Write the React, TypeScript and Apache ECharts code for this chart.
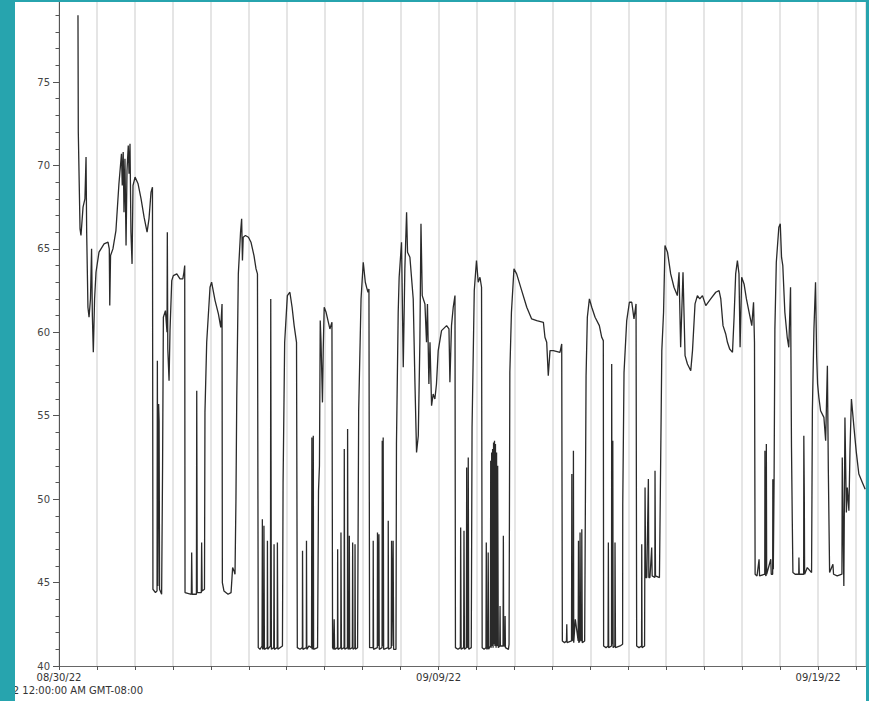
import React, { useEffect, useRef } from "react";
import * as echarts from "echarts";

// Time is hours since 08/30/22 12:00:00 AM (GMT-08:00); value is the reading.
const readingsAug30toSep03: [number, number][] = [
  [12.0, 79.0], [12.2, 72.0], [13.3, 66.2], [13.9, 65.8], [15.2, 67.5], [16.4, 68.0], [17.1, 70.5], [17.5, 66.0],
  [18.3, 61.5], [19.0, 60.9], [19.9, 62.0], [20.6, 65.0], [21.1, 61.0], [21.7, 58.8], [22.5, 62.0], [23.4, 63.6],
  [25.3, 64.8], [28.5, 65.3], [31.0, 65.4], [31.8, 65.0], [32.1, 61.6], [32.6, 64.6], [34.1, 65.0], [36.0, 66.1],
  [37.9, 68.9], [39.5, 70.7], [40.0, 68.8], [40.6, 70.8], [41.1, 67.2], [41.7, 70.4], [42.4, 65.2], [43.0, 69.7],
  [43.8, 71.2], [44.3, 69.5], [44.9, 71.3], [45.5, 66.0], [46.2, 64.1], [46.8, 68.8], [48.1, 69.3], [50.0, 68.9],
  [51.9, 68.0], [53.8, 66.9], [55.7, 66.0], [56.9, 66.8], [58.2, 68.4], [59.1, 68.7], [59.4, 44.6], [61.0, 44.4],
  [62.0, 44.5], [62.2, 58.3], [62.5, 44.8], [63.0, 55.7], [63.3, 54.7], [63.6, 44.6], [64.9, 44.3], [65.5, 52.0],
  [66.0, 60.9], [67.3, 61.3], [68.3, 60.0], [68.5, 66.0], [68.8, 59.0], [69.6, 57.1], [70.2, 60.1], [71.3, 63.1],
  [72.3, 63.4], [74.5, 63.5], [76.5, 63.2], [78.3, 63.2], [79.0, 63.6], [79.5, 64.0], [79.7, 44.4], [83.7, 44.3],
  [83.9, 46.8], [84.2, 44.3], [86.9, 44.3], [87.1, 56.5], [87.4, 44.4], [90.0, 44.4], [90.2, 47.4], [90.5, 44.5],
  [92.0, 44.6], [92.3, 55.2], [93.4, 59.4], [95.5, 62.7], [96.5, 63.0], [98.7, 61.9], [100.8, 61.1], [102.3, 60.3],
  [103.1, 61.7], [103.3, 45.0],
];

const readingsSep03toSep08: [number, number][] = [
  [104.3, 44.5], [106.9, 44.3], [108.8, 44.4], [109.8, 45.9], [110.7, 45.7], [111.3, 45.5], [111.9, 50.0], [112.4, 56.0],
  [113.4, 63.5], [114.8, 66.0], [115.5, 66.8], [116.0, 64.3], [116.5, 65.7], [117.9, 65.8], [119.8, 65.7], [121.4, 65.4],
  [123.3, 64.6], [124.6, 63.8], [125.5, 63.5], [126.0, 41.1], [127.1, 41.0], [128.4, 41.2], [128.6, 48.8], [128.8, 41.0],
  [129.5, 41.1], [129.6, 48.4], [129.9, 41.0], [131.7, 41.1], [131.8, 47.5], [132.0, 41.0], [133.7, 41.2], [133.9, 62.0],
  [134.1, 52.2], [134.3, 41.0], [135.8, 41.1], [136.0, 47.3], [136.2, 41.0], [138.0, 41.1], [138.1, 47.4], [138.4, 41.0],
  [141.3, 41.2], [141.7, 51.0], [142.7, 59.4], [144.4, 62.2], [146.0, 62.4], [147.4, 61.5], [148.7, 60.4], [150.2, 59.4],
  [150.7, 41.1], [152.4, 41.0], [153.9, 41.1], [154.0, 46.9], [154.2, 41.0], [156.4, 41.1], [156.5, 47.5], [156.7, 41.0],
  [158.1, 41.2], [159.7, 41.1], [159.9, 53.7], [160.1, 41.0], [160.6, 41.1], [160.8, 53.8], [161.0, 41.0], [163.5, 41.1],
  [164.1, 50.5], [164.7, 52.0], [165.2, 60.7], [165.7, 59.4], [166.6, 55.8], [167.1, 59.0], [167.7, 61.5], [168.9, 61.2],
  [171.3, 60.2], [172.6, 60.6], [173.0, 41.1], [173.6, 41.0], [174.0, 42.8], [174.3, 41.0], [176.1, 41.1], [176.2, 47.0],
  [176.4, 41.0], [178.2, 41.1], [178.3, 48.0], [178.6, 41.0], [180.3, 41.1], [180.4, 53.0], [180.7, 41.0], [182.4, 41.1],
  [182.5, 54.2], [182.8, 41.0], [183.5, 41.1], [183.6, 47.8], [183.8, 41.0], [185.5, 41.1], [185.7, 47.4], [185.9, 41.0],
  [187.1, 41.1], [187.2, 47.3], [187.4, 41.0], [188.8, 41.1], [189.5, 55.3], [191.0, 62.0], [192.4, 64.2], [193.7, 63.0],
  [194.5, 62.7], [195.4, 62.4], [196.0, 62.6], [196.4, 41.1],
];

const readingsSep08toSep13: [number, number][] = [
  [197.0, 41.1], [198.6, 41.1], [198.7, 47.5], [198.9, 41.0], [201.3, 41.1], [201.4, 48.0], [201.9, 41.2], [202.3, 47.9],
  [202.5, 41.0], [204.3, 41.1], [204.4, 53.5], [204.7, 41.2], [205.0, 53.7], [205.3, 41.0], [208.1, 41.1], [208.2, 48.7],
  [208.4, 41.0], [210.1, 41.1], [210.3, 47.5], [210.5, 41.2], [211.3, 47.5], [211.6, 41.0], [213.1, 41.0], [213.4, 53.3],
  [214.5, 61.2], [215.1, 63.3], [216.6, 65.4], [217.7, 57.9], [218.7, 63.8], [219.8, 67.2], [220.4, 64.8], [221.9, 64.5],
  [224.0, 62.0], [225.1, 56.9], [226.1, 52.8], [227.2, 53.8], [228.2, 59.4], [228.9, 66.5], [229.7, 62.2], [231.4, 61.7],
  [232.4, 59.4], [233.0, 61.7], [233.9, 56.9], [234.6, 59.4], [235.6, 55.6], [236.6, 56.3], [237.7, 56.0], [238.7, 56.9],
  [239.8, 58.9], [241.9, 60.1], [245.1, 60.4], [246.6, 60.2], [247.2, 57.0], [248.2, 60.4], [249.3, 61.5], [250.4, 62.2],
  [250.7, 41.1], [252.3, 41.0], [253.8, 41.1], [254.0, 48.3], [254.3, 41.0], [255.9, 41.1], [256.1, 48.1], [256.4, 41.0],
  [257.6, 41.1], [257.8, 51.9], [258.1, 41.2], [258.6, 41.1], [258.8, 52.5], [259.1, 41.0], [260.7, 41.1], [261.2, 54.3],
  [262.6, 62.5], [264.0, 64.3], [265.1, 63.0], [266.2, 63.3], [267.2, 62.7], [267.6, 41.1], [268.8, 41.0], [270.0, 41.1],
  [270.2, 47.4], [270.5, 41.0], [271.2, 41.1], [271.4, 46.8], [271.7, 41.0], [272.8, 41.2], [273.0, 52.3], [273.3, 41.1],
  [273.6, 52.8], [273.9, 41.2], [274.2, 53.0], [274.5, 41.1], [274.8, 53.4], [275.1, 41.3], [275.4, 53.5], [275.7, 41.2],
  [276.0, 53.3], [276.4, 41.1], [276.7, 52.8], [277.0, 41.2], [277.4, 52.0], [277.8, 41.1], [278.7, 41.2], [278.9, 43.6],
  [279.1, 41.2], [280.8, 41.2], [281.0, 47.8], [281.2, 41.2], [281.9, 41.2], [282.1, 43.0], [282.3, 41.1], [284.2, 41.0],
  [284.6, 41.3], [285.1, 57.6], [286.1, 61.2], [287.7, 63.8], [289.4, 63.5], [292.6, 62.5], [295.8, 61.5], [298.9, 60.8],
  [302.1, 60.7], [306.3, 60.6], [307.3, 59.7], [308.4, 59.4], [309.4, 57.4], [310.5, 58.9], [312.6, 58.9], [316.8, 58.8],
  [317.9, 59.3], [318.3, 41.5],
];

const readingsSep13toSep20: [number, number][] = [
  [319.7, 41.4], [320.9, 41.5], [321.1, 42.5], [321.3, 41.4], [324.1, 41.5], [324.3, 51.5], [324.5, 41.6], [325.2, 41.5],
  [325.3, 52.9], [325.5, 41.4], [326.5, 42.8], [328.3, 41.5], [328.5, 47.5], [328.7, 41.4], [329.4, 41.5], [329.5, 48.0],
  [329.8, 41.6], [330.5, 41.5], [330.6, 48.2], [330.9, 41.4], [332.4, 41.5], [333.3, 57.4], [334.1, 60.9], [335.4, 62.0],
  [336.9, 61.5], [339.0, 60.9], [341.7, 60.4], [343.2, 59.7], [344.2, 59.5], [344.4, 41.2], [345.9, 41.1], [347.2, 41.2],
  [347.4, 47.4], [347.6, 41.1], [349.4, 41.2], [349.5, 58.1], [349.8, 41.3], [350.2, 53.5], [350.4, 41.1], [351.5, 41.2],
  [351.6, 47.4], [351.9, 41.1], [354.8, 41.2], [356.4, 41.3], [356.5, 49.7], [357.3, 57.6], [359.0, 60.7], [360.7, 61.8],
  [362.2, 61.8], [363.6, 60.8], [364.9, 61.7], [365.3, 41.2], [366.8, 41.1], [368.4, 41.2], [368.5, 47.3], [368.7, 41.1],
  [370.3, 41.2], [370.6, 50.7], [371.0, 45.3], [371.7, 45.3], [372.7, 51.2], [373.0, 45.3], [373.7, 45.3], [374.8, 47.1],
  [375.1, 45.4], [376.8, 45.3], [376.9, 51.7], [377.2, 45.4], [379.7, 45.3], [381.2, 58.9], [382.3, 61.2], [383.2, 65.2],
  [384.8, 64.8], [386.8, 63.5], [388.9, 62.7], [391.0, 62.2], [392.1, 63.6], [393.1, 59.1], [394.6, 63.6], [395.9, 58.6],
  [397.4, 58.1], [399.5, 57.7], [400.6, 58.9], [402.2, 61.7], [403.7, 62.2], [405.2, 62.0], [406.9, 62.2], [409.0, 61.6],
  [412.1, 62.0], [415.3, 62.4], [417.4, 62.5], [418.5, 62.0], [419.9, 60.4], [421.6, 59.9], [422.7, 59.4], [424.1, 59.0],
  [425.9, 58.8], [426.9, 60.9], [427.9, 63.5], [429.0, 64.3], [430.0, 63.5], [430.7, 59.1], [431.7, 63.3], [433.2, 62.9],
  [434.7, 62.0], [436.4, 61.2], [438.1, 60.4], [439.2, 61.8], [439.8, 59.4], [440.2, 45.5], [441.4, 45.4], [442.7, 46.4],
  [443.0, 45.4], [446.3, 45.5], [446.4, 52.9], [446.6, 45.5], [447.1, 45.4], [447.3, 53.3], [447.5, 45.5], [450.1, 46.4],
  [450.4, 45.5], [451.3, 45.5], [451.4, 51.2], [451.7, 45.8], [452.2, 51.2], [452.7, 60.2], [453.6, 64.2], [455.2, 66.3],
  [456.1, 66.5], [456.9, 64.5], [457.7, 64.0], [459.0, 61.2], [460.5, 59.7], [461.5, 59.1], [462.6, 62.7], [463.2, 53.1],
  [463.7, 48.7], [464.1, 45.6], [465.5, 45.5], [467.8, 45.5], [467.9, 46.5], [468.1, 45.5], [470.9, 45.5], [471.0, 53.8],
  [471.3, 50.2], [471.5, 45.5], [473.2, 45.9], [475.9, 45.6], [476.4, 55.3], [477.4, 60.2], [478.4, 63.0], [479.1, 58.6],
  [479.7, 56.9], [480.5, 56.1], [481.6, 55.3], [483.7, 54.9], [484.8, 53.5], [485.9, 58.0], [486.5, 51.7], [487.3, 45.6],
  [489.4, 46.1], [489.8, 45.5], [492.1, 45.4], [495.1, 45.5], [495.3, 52.5], [496.3, 44.8], [497.0, 54.9], [497.9, 49.2],
  [498.5, 50.7], [499.5, 49.3], [500.2, 53.0], [501.1, 56.0], [502.7, 54.3], [504.2, 52.8], [505.8, 51.5], [508.0, 51.0],
  [509.8, 50.6],
];

const dateTickHours = [0, 240, 480];
const dateTickLabels = ["08/30/22", "09/09/22", "09/19/22"];
const timeZoneCaption = "08/30/22 12:00:00 AM GMT-08:00";

const TEAL = "#27a4ae";
// The chart box starts a little above the page so that the top of the y axis (80) is cut off.
const SHIFT = 10;

export default function App() {
  const ref = useRef<HTMLDivElement>(null);

  useEffect(() => {
    if (!ref.current) return;
    const chart = echarts.init(ref.current, null, { renderer: "svg" });
    const data = [
      ...readingsAug30toSep03,
      ...readingsSep03toSep08,
      ...readingsSep08toSep13,
      ...readingsSep13toSep20,
    ];
    chart.setOption({
      animation: false,
      backgroundColor: "#ffffff",
      grid: { left: 59, right: 3.5, top: SHIFT - 1.4, bottom: 35 },
      xAxis: {
        type: "value",
        min: 0,
        max: 510,
        interval: 24,
        axisLine: { show: true, lineStyle: { color: "#666666", width: 1 } },
        axisTick: { show: true, length: 4, lineStyle: { color: "#555555" } },
        axisLabel: {
          color: "#333333",
          fontSize: 10,
          fontFamily: "DejaVu Sans",
          margin: 6,
          showMaxLabel: false,
          formatter: (v: number) => {
            const i = dateTickHours.indexOf(v);
            return i >= 0 ? dateTickLabels[i] : "";
          },
        },
        splitLine: { show: true, lineStyle: { color: "#dddddd", width: 1.5 } },
      },
      yAxis: {
        type: "value",
        min: 40,
        max: 80,
        interval: 5,
        axisLine: { show: true, lineStyle: { color: "#555555", width: 1 } },
        axisTick: { show: true, length: 6, lineStyle: { color: "#555555" } },
        minorTick: { show: true, splitNumber: 5, length: 3.5, lineStyle: { color: "#555555" } },
        axisLabel: { color: "#444444", fontSize: 10, fontFamily: "DejaVu Sans", margin: 9 },
        splitLine: { show: false },
      },
      series: [
        {
          type: "line",
          data,
          showSymbol: false,
          symbol: "none",
          silent: true,
          lineStyle: { color: "#2a2a2a", width: 1.3 },
        },
      ],
      graphic: [
        {
          type: "text",
          z: 50,
          style: {
            text: timeZoneCaption,
            x: 143,
            y: 690 + SHIFT,
            align: "right",
            verticalAlign: "middle",
            font: "10px 'DejaVu Sans'",
            fill: "#333333",
          },
        },
        { type: "rect", z: 100, shape: { x: 0, y: 0, width: 15, height: 701 + SHIFT }, style: { fill: TEAL } },
        { type: "rect", z: 100, shape: { x: 0, y: 0, width: 869, height: 2 + SHIFT }, style: { fill: TEAL } },
        { type: "rect", z: 100, shape: { x: 866, y: 0, width: 3, height: 701 + SHIFT }, style: { fill: TEAL } },
      ],
    });
    return () => chart.dispose();
  }, []);

  return (
    <div
      ref={ref}
      style={{
        position: "fixed",
        left: 0,
        top: -SHIFT,
        width: 869,
        height: 701 + SHIFT,
        background: "#ffffff",
      }}
    />
  );
}
